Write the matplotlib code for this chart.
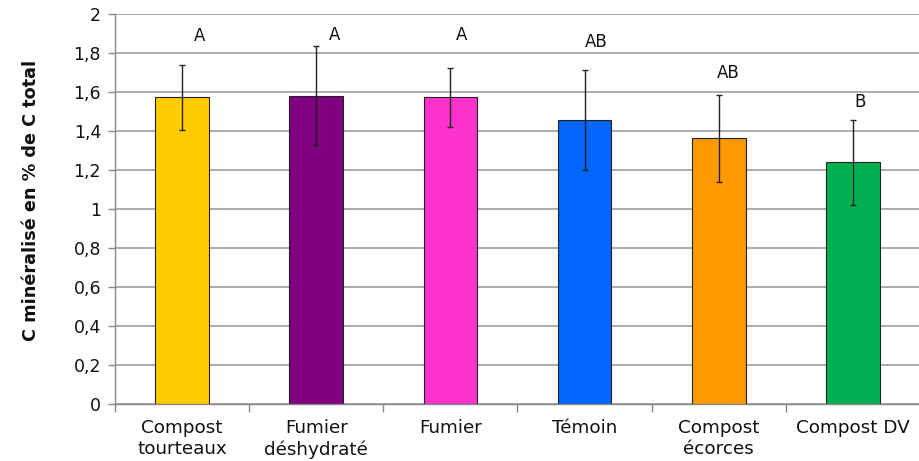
import matplotlib
matplotlib.use("Agg")
import matplotlib.pyplot as plt
import numpy as np

categories = ["Compost\ntourteaux", "Fumier\ndéshydraté", "Fumier", "Témoin",
              "Compost\nécorces", "Compost DV"]
values = [1.573, 1.581, 1.573, 1.455, 1.362, 1.239]
errors = [0.167, 0.255, 0.152, 0.256, 0.222, 0.216]
letters = ["A", "A", "A", "AB", "AB", "B"]
colors = ["#FFCC00", "#800080", "#FF33CC", "#0066FF", "#FF9900", "#00B050"]
yticks = [0, 0.2, 0.4, 0.6, 0.8, 1, 1.2, 1.4, 1.6, 1.8, 2]
ytick_labels = ["0", "0,2", "0,4", "0,6", "0,8", "1", "1,2", "1,4", "1,6", "1,8", "2"]

# label placement (style)
letter_dx = [0.13, 0.14, 0.08, 0.09, 0.07, 0.05]
letter_y = [1.885, 1.89, 1.893, 1.858, 1.696, 1.55]

plt.rcParams['font.family'] = ['DejaVu Sans']
fig = plt.figure(figsize=(9.2, 4.61), dpi=100)
ax = fig.add_axes([115/920, 1 - 404/461, 1 - 115/920, 390/461])

x = np.arange(len(categories))
ax.set_axisbelow(True)
ax.yaxis.grid(True, color="#a6a6a6", linewidth=1.3)
ax.bar(x, values, width=0.4, color=colors, edgecolor="#222222", linewidth=0.8, zorder=2)
ax.errorbar(x, values, yerr=errors, fmt="none", ecolor="#222222", elinewidth=1.0,
            capsize=2.2, capthick=1.0, zorder=3)
for xi, dx, ly, lt in zip(x, letter_dx, letter_y, letters):
    ax.text(xi + dx, ly, lt, ha="center", va="center", fontsize=12, color="#111111")

ax.set_xlim(-0.5, len(categories) - 0.5)
ax.set_ylim(0, 2)
ax.set_yticks(yticks)
ax.set_yticklabels(ytick_labels, fontsize=12.5, color="#111111")
ax.set_xticks(x)
ax.set_xticklabels(categories, fontsize=13.2, linespacing=1.22, color="#111111")
ax.tick_params(axis="x", length=0, pad=11)
ax.set_xticks(np.arange(-0.5, len(categories), 1), minor=True)
ax.tick_params(axis="x", which="minor", length=6, color="#888888", width=1)
ax.tick_params(axis="y", length=5, color="#888888", width=1, pad=5)

for s in ["top", "right"]:
    ax.spines[s].set_visible(False)
for s in ["left", "bottom"]:
    ax.spines[s].set_color("#888888")
    ax.spines[s].set_linewidth(1)

ax.set_ylabel("C minéralisé en % de C total", fontsize=12.7, fontweight="bold",
              color="#111111", va="center")
ax.yaxis.set_label_coords(-0.104, 0.523)

fig.savefig("out.png", dpi=100)
